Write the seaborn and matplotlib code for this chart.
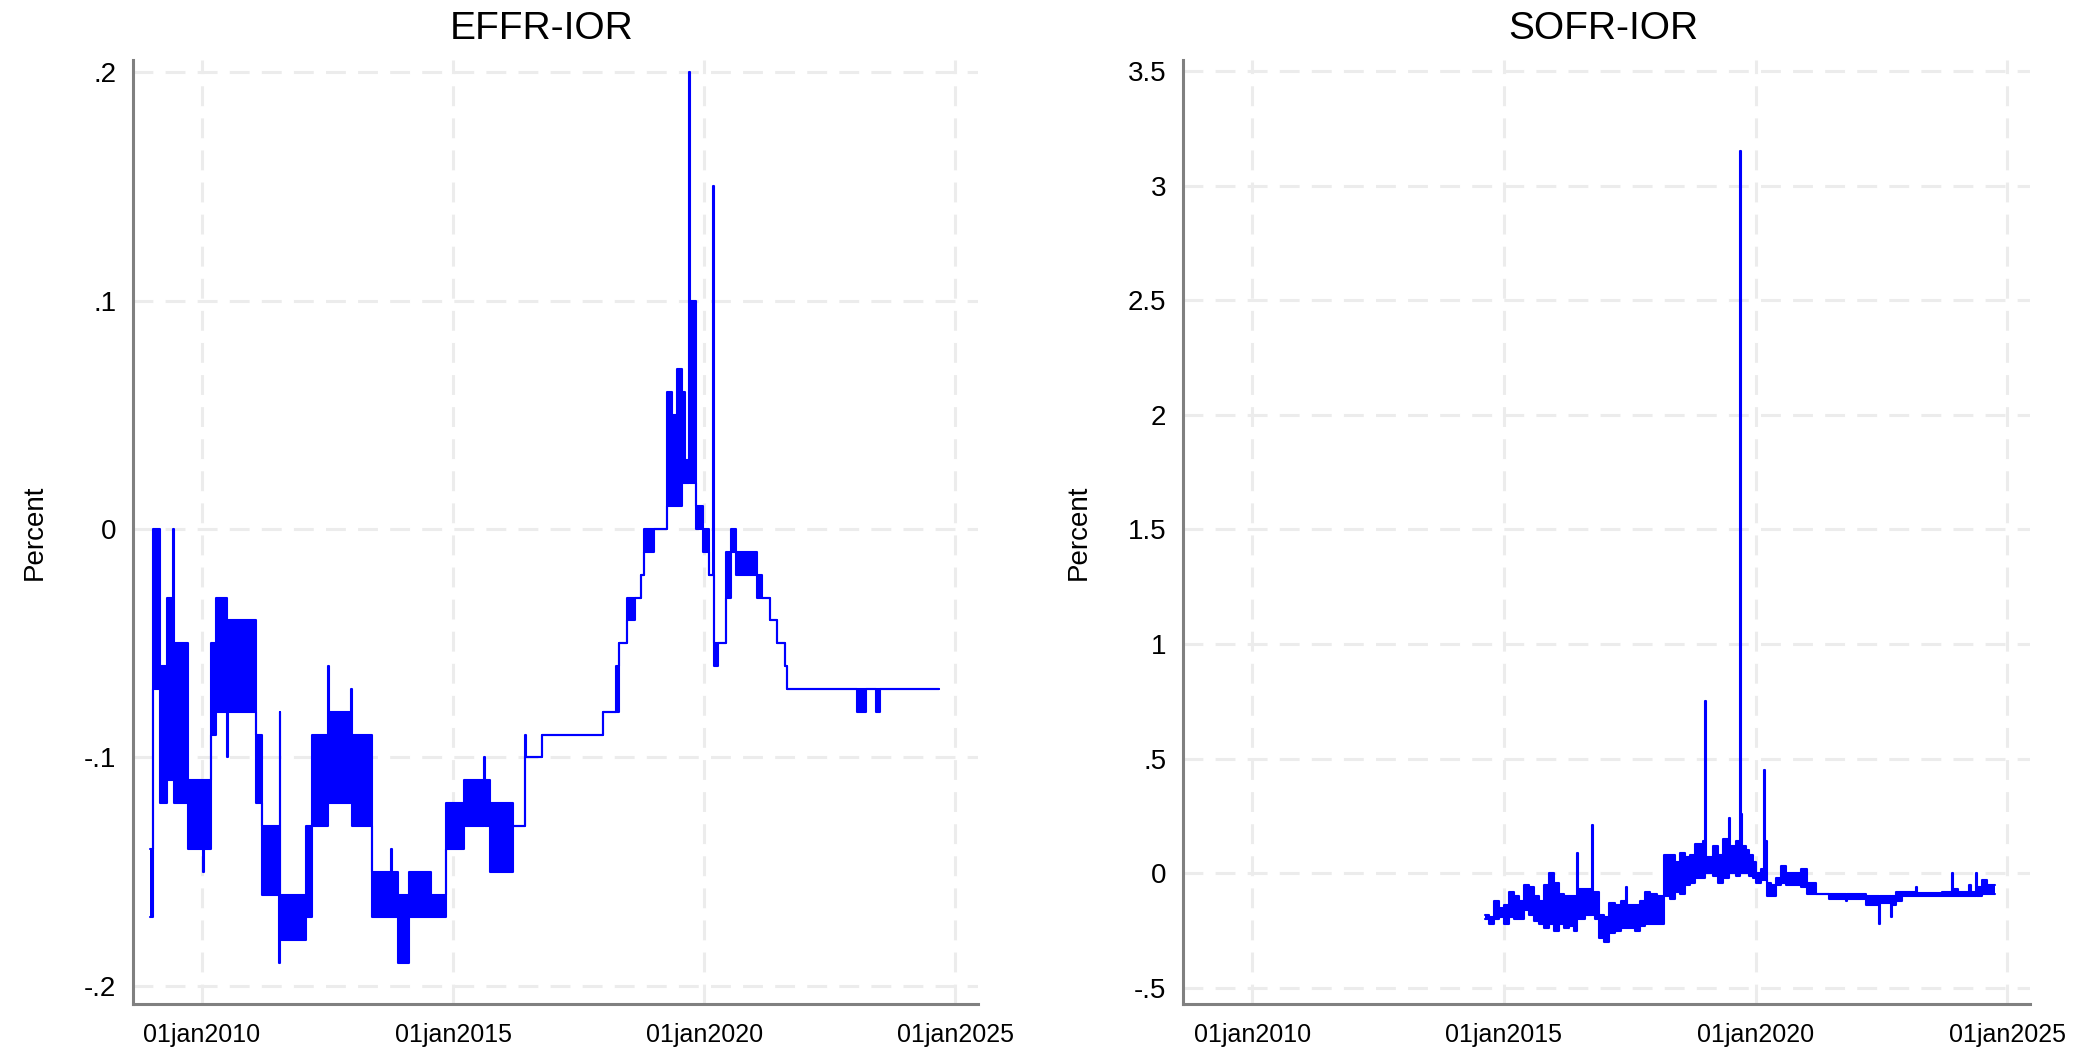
import numpy as np
import pandas as pd
import matplotlib
matplotlib.use('Agg')
import matplotlib.pyplot as plt
import seaborn as sns

# EFFR-IOR, step segments: start (decimal year), low, high
effr_t = [2008.97, 2009.03, 2009.16, 2009.30, 2009.42, 2009.44, 2009.72, 2010.02, 2010.04,
          2010.18, 2010.28, 2010.50, 2010.52, 2011.07, 2011.20, 2011.53, 2011.545, 2011.555,
          2012.06, 2012.19, 2012.50, 2012.52, 2012.96, 2012.98, 2013.38, 2013.76, 2013.78,
          2013.90, 2014.13, 2014.56, 2014.86, 2015.22, 2015.62, 2015.64, 2015.74, 2016.20,
          2016.43, 2016.45, 2016.76, 2017.98, 2018.24, 2018.31, 2018.47, 2018.63, 2018.73,
          2018.80, 2018.99, 2019.25, 2019.35, 2019.45, 2019.55, 2019.61, 2019.69, 2019.71,
          2019.84, 2019.97, 2020.10, 2020.17, 2020.19, 2020.27, 2020.43, 2020.53, 2020.63,
          2021.05, 2021.15, 2021.31, 2021.44, 2021.61, 2021.64, 2023.05, 2023.21, 2023.41,
          2023.50, 2024.68]
effr_lo = [-0.17, -0.07, -0.12, -0.11, -0.10, -0.12, -0.14, -0.15, -0.14,
           -0.09, -0.08, -0.10, -0.08, -0.12, -0.16, -0.19, -0.17, -0.18,
           -0.17, -0.13, -0.12, -0.12, -0.11, -0.13, -0.17, -0.17, -0.17,
           -0.19, -0.17, -0.17, -0.14, -0.13, -0.12, -0.13, -0.15, -0.13,
           -0.10, -0.10, -0.09, -0.08, -0.08, -0.05, -0.04, -0.03, -0.02,
           -0.01, 0.00, 0.01, 0.01, 0.01, 0.02, 0.02, 0.03, 0.02,
           0.00, -0.01, -0.02, -0.02, -0.06, -0.05, -0.03, -0.01, -0.02,
           -0.03, -0.03, -0.04, -0.05, -0.06, -0.07, -0.08, -0.07, -0.08,
           -0.07, -0.07]
effr_hi = [-0.14, 0.00, -0.06, -0.03, 0.00, -0.05, -0.11, -0.12, -0.11,
           -0.05, -0.03, -0.05, -0.04, -0.09, -0.13, -0.16, -0.08, -0.16,
           -0.13, -0.09, -0.06, -0.08, -0.07, -0.09, -0.15, -0.14, -0.15,
           -0.16, -0.15, -0.16, -0.12, -0.11, -0.10, -0.11, -0.12, -0.13,
           -0.09, -0.10, -0.09, -0.08, -0.06, -0.05, -0.03, -0.03, -0.02,
           0.00, 0.00, 0.06, 0.05, 0.07, 0.06, 0.03, 0.20, 0.10,
           0.01, 0.00, -0.02, 0.15, -0.05, -0.05, -0.01, 0.00, -0.01,
           -0.02, -0.03, -0.04, -0.05, -0.06, -0.07, -0.07, -0.07, -0.07,
           -0.07, -0.07]

# SOFR-IOR, step segments: start (decimal year), low, high
sofr_t = [2014.62, 2014.70, 2014.80, 2014.90, 2015.00, 2015.10, 2015.20, 2015.30, 2015.40,
          2015.50, 2015.60, 2015.70, 2015.80, 2015.90, 2016.00, 2016.10, 2016.20, 2016.30,
          2016.40, 2016.45, 2016.47, 2016.52, 2016.62, 2016.74, 2016.76, 2016.80, 2016.88,
          2016.98, 2017.08, 2017.21, 2017.32, 2017.42, 2017.45, 2017.50, 2017.60, 2017.70,
          2017.80, 2017.90, 2018.05, 2018.17, 2018.30, 2018.40, 2018.50, 2018.60, 2018.70,
          2018.80, 2018.95, 2019.00, 2019.02, 2019.15, 2019.25, 2019.35, 2019.47, 2019.50,
          2019.60, 2019.69, 2019.71, 2019.73, 2019.80, 2019.87, 2019.95, 2020.00, 2020.10,
          2020.17, 2020.19, 2020.23, 2020.30, 2020.40, 2020.50, 2020.60, 2020.75, 2020.90,
          2021.03, 2021.19, 2021.46, 2021.80, 2021.82, 2022.19, 2022.45, 2022.47, 2022.68,
          2022.70, 2022.78, 2022.91, 2023.18, 2023.21, 2023.71, 2023.91, 2023.93, 2024.01,
          2024.24, 2024.27, 2024.37, 2024.40, 2024.50, 2024.60, 2024.76]
sofr_lo = [-0.20, -0.22, -0.20, -0.19, -0.22, -0.19, -0.20, -0.20, -0.16,
           -0.18, -0.21, -0.22, -0.24, -0.22, -0.25, -0.22, -0.24, -0.23,
           -0.25, -0.15, -0.20, -0.20, -0.18, -0.15, -0.18, -0.20, -0.28,
           -0.30, -0.26, -0.25, -0.24, -0.24, -0.24, -0.24, -0.25, -0.23,
           -0.22, -0.22, -0.22, -0.10, -0.11, -0.08, -0.09, -0.05, -0.04,
           -0.02, -0.02, 0.00, 0.00, -0.01, -0.04, -0.02, 0.00, 0.00,
           -0.01, 0.00, 0.00, 0.00, 0.00, -0.01, -0.02, -0.04, -0.03,
           -0.03, -0.03, -0.10, -0.10, -0.05, -0.04, -0.05, -0.05, -0.06,
           -0.09, -0.09, -0.11, -0.12, -0.11, -0.14, -0.22, -0.13, -0.19,
           -0.14, -0.12, -0.10, -0.10, -0.10, -0.10, -0.10, -0.10, -0.10,
           -0.10, -0.10, -0.09, -0.10, -0.09, -0.09, -0.09]
sofr_hi = [-0.18, -0.19, -0.12, -0.15, -0.14, -0.08, -0.10, -0.12, -0.05,
           -0.06, -0.10, -0.12, -0.05, 0.00, -0.04, -0.09, -0.10, -0.10,
           -0.10, 0.09, -0.07, -0.07, -0.07, 0.21, -0.08, -0.08, -0.18,
           -0.19, -0.13, -0.14, -0.12, -0.06, -0.14, -0.14, -0.14, -0.12,
           -0.08, -0.09, -0.10, 0.08, 0.08, 0.05, 0.09, 0.07, 0.08,
           0.13, 0.14, 0.75, 0.07, 0.12, 0.08, 0.15, 0.24, 0.12,
           0.14, 3.15, 0.26, 0.12, 0.10, 0.08, 0.05, 0.00, 0.02,
           0.45, 0.14, -0.04, -0.05, -0.02, 0.03, 0.00, 0.00, 0.02,
           -0.04, -0.09, -0.09, -0.10, -0.09, -0.10, -0.11, -0.10, -0.11,
           -0.10, -0.08, -0.08, -0.06, -0.085, -0.08, 0.00, -0.07, -0.08,
           -0.05, -0.08, 0.00, -0.06, -0.03, -0.05, -0.05]

xticks = [2010, 2015, 2020, 2025]
xtick_labels = ['01jan2010', '01jan2015', '01jan2020', '01jan2025']
effr_yticks = [-0.2, -0.1, 0, 0.1, 0.2]
effr_ylabels = ['-.2', '-.1', '0', '.1', '.2']
sofr_yticks = [-0.5, 0, 0.5, 1, 1.5, 2, 2.5, 3, 3.5]
sofr_ylabels = ['-.5', '0', '.5', '1', '1.5', '2', '2.5', '3', '3.5']

sns.set_style('white')
plt.rcParams['font.family'] = ['Liberation Sans', 'DejaVu Sans']
plt.rcParams['text.color'] = 'black'
plt.rcParams['axes.labelcolor'] = 'black'
plt.rcParams['axes.titlecolor'] = 'black'

W, H = 2078, 1053
fig = plt.figure(figsize=(W / 100, H / 100), dpi=100)
ax1 = fig.add_axes([133 / W, 1 - 1004 / H, 845 / W, 944 / H])
ax2 = fig.add_axes([1183 / W, 1 - 1004 / H, 847 / W, 944 / H])

axis_col = '#808080'
grid_col = '#ececec'
blue = '#0000ff'


def panel(ax, t, lo, hi, title, yticks, ylabels, ylim, title_x, label_px):
    df = pd.DataFrame({'t': t, 'lo': lo, 'hi': hi})
    ax.fill_between(df['t'], df['lo'], df['hi'], step='post', color=blue, lw=0)
    sns.lineplot(data=df, x='t', y='hi', ax=ax, color=blue, lw=1.5,
                 drawstyle='steps-post', estimator=None, sort=False)
    sns.lineplot(data=df, x='t', y='lo', ax=ax, color=blue, lw=1.5,
                 drawstyle='steps-post', estimator=None, sort=False)
    ax.set_xlim(2008.625, 2025.45)
    ax.set_ylim(*ylim)
    ax.set_xticks(xticks)
    ax.set_xticklabels(xtick_labels, fontsize=18)
    ax.set_yticks(yticks)
    ax.set_yticklabels(ylabels, fontsize=20)
    ax.grid(True, color=grid_col, lw=2.2, linestyle=(0, (6.5, 4)))
    ax.set_axisbelow(True)
    for s in ['top', 'right']:
        ax.spines[s].set_visible(False)
    for s in ['left', 'bottom']:
        ax.spines[s].set_color(axis_col)
        ax.spines[s].set_linewidth(2.2)
    ax.tick_params(axis='both', direction='out', length=8.6, width=2.2,
                   color=axis_col, labelcolor='black')
    ax.tick_params(axis='y', pad=3.5)
    ax.tick_params(axis='x', pad=5)
    ax.set_xlabel('')
    ax.set_ylabel('Percent', fontsize=20, color='black')
    ax.yaxis.set_label_coords(-label_px / 845, 0.5)
    ax.set_title(title, fontsize=28, x=title_x, pad=15, color='black')


panel(ax1, effr_t, effr_lo, effr_hi, 'EFFR-IOR', effr_yticks, effr_ylabels,
      (-0.2079, 0.2053), 0.483, 85)
panel(ax2, sofr_t, sofr_lo, sofr_hi, 'SOFR-IOR', sofr_yticks, sofr_ylabels,
      (-0.57, 3.548), 0.496, 91)

fig.savefig('out.png', dpi=100)
